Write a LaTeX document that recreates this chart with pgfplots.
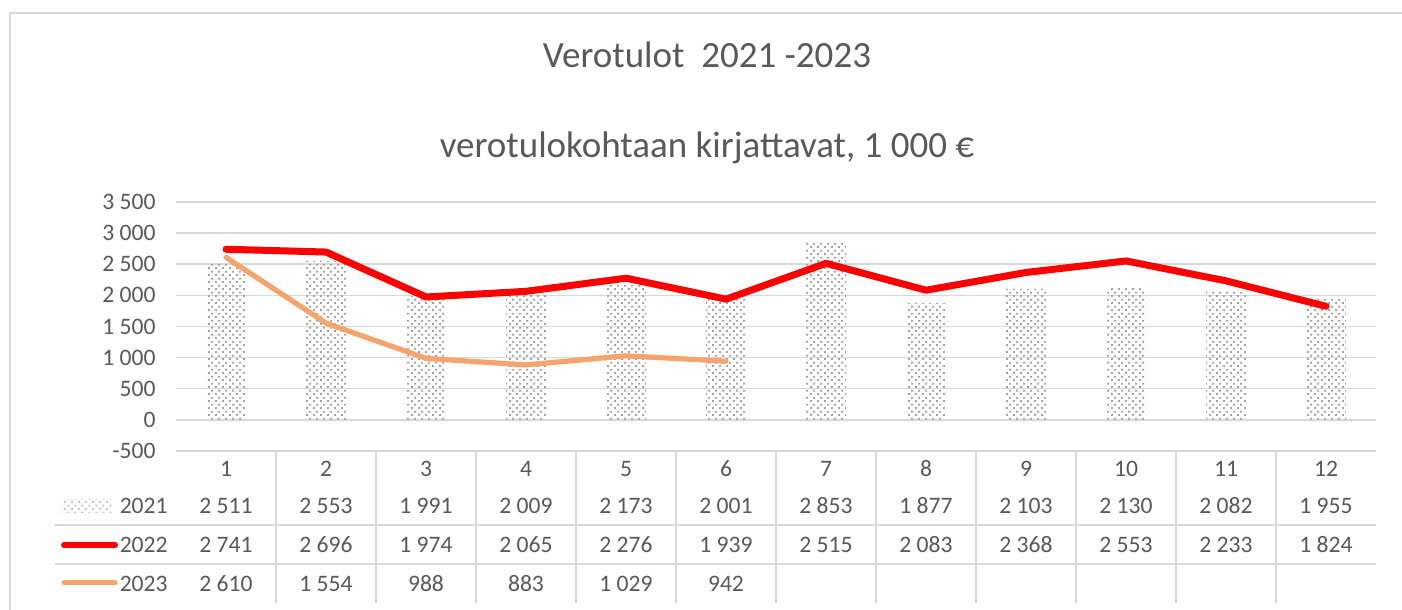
\documentclass[border=0pt]{standalone}
\usepackage{pgfplots}
\pgfplotsset{compat=1.18}
\usepackage{pgfplotstable}
\usepackage{fontspec}
\setmainfont{Carlito}
\usetikzlibrary{patterns}
\definecolor{txt}{HTML}{595959}
\definecolor{gridc}{HTML}{D9D9D9}
\definecolor{red22}{HTML}{FF0000}
\definecolor{or23}{HTML}{F4A46C}
\definecolor{dotc}{HTML}{A3A3A3}
\pgfdeclarepatternformonly{exceldots}{\pgfpointorigin}{\pgfpoint{3.6pt}{3.6pt}}{\pgfpoint{3.6pt}{3.6pt}}{%
  \pgfpathrectangle{\pgfpointorigin}{\pgfpoint{1.1pt}{1.1pt}}%
  \pgfpathrectangle{\pgfpoint{1.8pt}{1.8pt}}{\pgfpoint{1.1pt}{1.1pt}}%
  \pgfusepath{fill}}

\pgfplotstableread{
x y21 y22
1 2511 2741
2 2553 2696
3 1991 1974
4 2009 2065
5 2173 2276
6 2001 1939
7 2853 2515
8 1877 2083
9 2103 2368
10 2130 2553
11 2082 2233
12 1955 1824
}\mainT
\pgfplotstableread{
x y23
1 2610
2 1554
3 988
4 883
5 1029
6 942
}\thirdT

\begin{document}
\begin{tikzpicture}[x=0.5pt,y=0.5pt]
\useasboundingbox (0,0) rectangle (1402,610);
% outer frame
\draw[gridc, line width=0.8pt] (10,-20) -- (10,597) -- (1420,597);
% titles
\node[txt, anchor=base, inner sep=0pt, font=\fontsize{18.5}{22}\selectfont] at (707,610-68) {Verotulot\ \ 2021 -2023};
\node[txt, anchor=base, inner sep=0pt, font=\fontsize{18.5}{22}\selectfont] at (707,610-158) {verotulokohtaan kirjattavat, 1 000 €};

\begin{axis}[
  at={(88pt,79.5pt)}, anchor=south west,
  scale only axis, width=600pt, height=124.5pt,
  xmin=0.5, xmax=12.5, ymin=-500, ymax=3500,
  xtick=\empty,
  ytick={-500,0,500,1000,1500,2000,2500,3000,3500},
  yticklabels={-500,0,500,1 000,1 500,2 000,2 500,3 000,3 500},
  ymajorgrids, grid style={gridc, line width=0.75pt},
  axis line style={draw=none},
  major tick length=0pt,
  yticklabel style={text=txt, font=\fontsize{11.8}{14}\selectfont, anchor=east, inner sep=0pt, xshift=-10pt},
  clip=false,
  /pgf/number format/1000 sep={\ },
  /pgf/number format/assume math mode=true,
  nodes near coords style={text=txt, anchor=center, inner sep=0pt, font=\fontsize{11.8}{14}\selectfont},
]
\addplot[ybar, bar width=20pt, bar shift=0pt, draw=none, pattern=exceldots, pattern color=dotc] table[x=x,y=y21]{\mainT};
\addplot[red22, line width=3.5pt, line cap=round, line join=round, mark=none] table[x=x,y=y22]{\mainT};
\addplot[or23, line width=2.6pt, line cap=round, line join=round, mark=none] table[x=x,y=y23]{\thirdT};
% data table rows
\addplot[draw=none, mark=none, nodes near coords, point meta=explicit] table[x=x, y expr=-789, meta=x]{\mainT};
\addplot[draw=none, mark=none, nodes near coords, point meta=explicit] table[x=x, y expr=-1383.5, meta=y21]{\mainT};
\addplot[draw=none, mark=none, nodes near coords, point meta=explicit] table[x=x, y expr=-2010, meta=y22]{\mainT};
\addplot[draw=none, mark=none, nodes near coords, point meta=explicit] table[x=x, y expr=-2636.5, meta=y23]{\thirdT};
\end{axis}

% table grid
\draw[gridc, line width=0.75pt] (55,610-525) -- (1376,610-525);
\draw[gridc, line width=0.75pt] (55,610-564) -- (1376,610-564);
\foreach \i in {276,376,...,1276} {
  \draw[gridc, line width=0.75pt] (\i,610-451) -- (\i,610-603);
}
% legend keys
\fill[pattern=exceldots, pattern color=dotc!60] (62,610-513) rectangle (112,610-500);
\draw[red22, line width=3pt, line cap=round] (64,610-545) -- (115,610-545);
\draw[or23, line width=2.5pt, line cap=round] (64,610-583) -- (115,610-583);
\node[txt, anchor=east, inner sep=0pt, font=\fontsize{11.8}{14}\selectfont] at (168,610-506) {2021};
\node[txt, anchor=east, inner sep=0pt, font=\fontsize{11.8}{14}\selectfont] at (168,610-545) {2022};
\node[txt, anchor=east, inner sep=0pt, font=\fontsize{11.8}{14}\selectfont] at (168,610-584) {2023};
\end{tikzpicture}
\end{document}
